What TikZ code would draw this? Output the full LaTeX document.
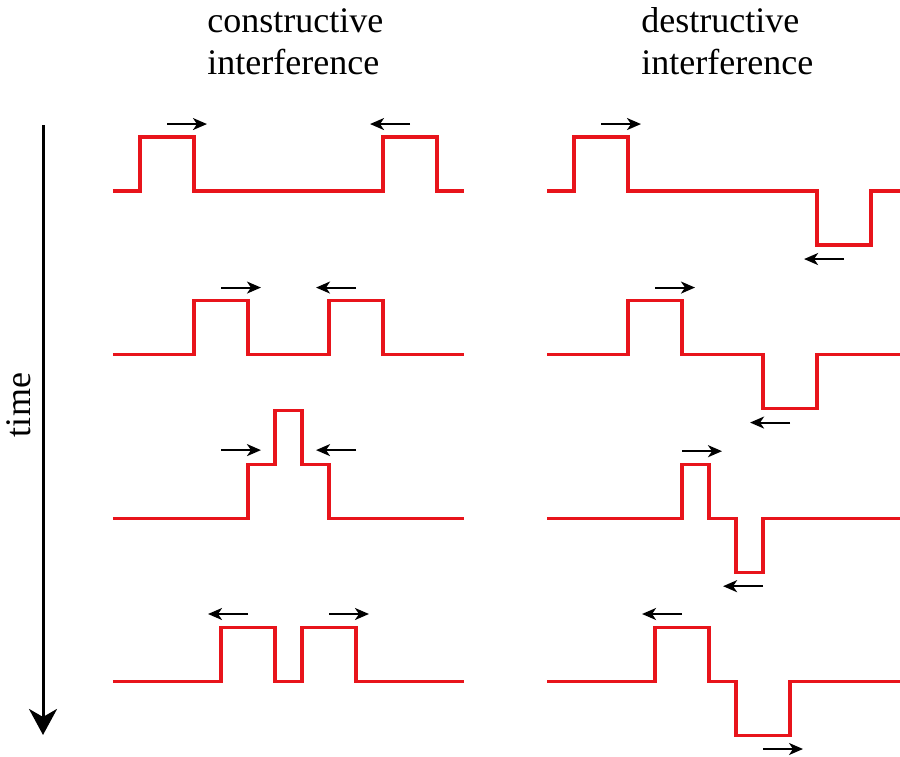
\documentclass[tikz,border=0pt]{standalone}
\usepackage{xcolor}
\definecolor{wavered}{HTML}{E8141B}
\usepackage{fontspec}
\setmainfont{Liberation Serif}
\usepackage{tikz}
\usetikzlibrary{arrows.meta}
\usetikzlibrary{positioning}

\tikzset{
  pulse/.style={wavered,line width=1.6pt,line join=miter},
  motion/.style={black,line width=1pt,-{Stealth[length=7pt,width=6pt,inset=2pt]}}
}

\begin{document}
\begin{tikzpicture}[x=13.5pt,y=13.5pt]
          \useasboundingbox (0,0) rectangle (33.333,-28);
          % titles
          \node[anchor=base west,align=left,inner sep=0pt,font=\fontsize{18}{21}\selectfont](tcon) at (7.667,-2.741) {constructive\\interference};
          \node[anchor=base west,align=left,inner sep=0pt,font=\fontsize{18}{21}\selectfont](tdes) at (23.74,-2.741) {destructive\\interference};
          % time axis
          \coordinate (t0) at (1.593,-4.63);
          \coordinate (t1) at (1.593,-27.22);
          \draw[line width=1.5pt,-{Stealth[length=13pt,width=14pt,inset=4pt]}] (t0) -- (t1);
          \node[rotate=90,anchor=base,font=\fontsize{18}{21}\selectfont](time) at (1.148,-15.0) {time};
          % constructive
          \begin{scope}[shift={(4.185,-7.074)}]
            \draw[pulse] (0,0) -- (1,0) -- (1,2) -- (3,2) -- (3,0) -- (10,0) -- (10,2) -- (12,2) -- (12,0) -- (13,0);
            \draw[motion] (2,2.48) -- ++(1.48,0);
            \draw[motion] (11,2.48) -- ++(-1.48,0);
          \end{scope}
          \begin{scope}[shift={(4.185,-13.13)}]
            \draw[pulse] (0,0) -- (3,0) -- (3,2) -- (5,2) -- (5,0) -- (8,0) -- (8,2) -- (10,2) -- (10,0) -- (13,0);
            \draw[motion] (4,2.48) -- ++(1.48,0);
            \draw[motion] (9,2.48) -- ++(-1.48,0);
          \end{scope}
          \begin{scope}[shift={(4.185,-19.19)}]
            \draw[pulse] (0,0) -- (5,0) -- (5,2) -- (6,2) -- (6,4) -- (7,4) -- (7,2) -- (8,2) -- (8,0) -- (13,0);
            \draw[motion] (4,2.52) -- ++(1.48,0);
            \draw[motion] (9,2.52) -- ++(-1.48,0);
          \end{scope}
          \begin{scope}[shift={(4.185,-25.24)}]
            \draw[pulse] (0,0) -- (4,0) -- (4,2) -- (6,2) -- (6,0) -- (7,0) -- (7,2) -- (9,2) -- (9,0) -- (13,0);
            \draw[motion] (5,2.5) -- ++(-1.48,0);
            \draw[motion] (8,2.5) -- ++(1.48,0);
          \end{scope}
          % destructive
          \begin{scope}[shift={(20.26,-7.074)}]
            \draw[pulse] (0,0) -- (1,0) -- (1,2) -- (3,2) -- (3,0) -- (10,0) -- (10,-2) -- (12,-2) -- (12,0) -- (13.1,0);
            \draw[motion] (2,2.48) -- ++(1.48,0);
            \draw[motion] (11,-2.52) -- ++(-1.48,0);
          \end{scope}
          \begin{scope}[shift={(20.26,-13.13)}]
            \draw[pulse] (0,0) -- (3,0) -- (3,2) -- (5,2) -- (5,0) -- (8,0) -- (8,-2) -- (10,-2) -- (10,0) -- (13.1,0);
            \draw[motion] (4,2.48) -- ++(1.48,0);
            \draw[motion] (9,-2.52) -- ++(-1.48,0);
          \end{scope}
          \begin{scope}[shift={(20.26,-19.19)}]
            \draw[pulse] (0,0) -- (5,0) -- (5,2) -- (6,2) -- (6,0) -- (7,0) -- (7,-2) -- (8,-2) -- (8,0) -- (13.1,0);
            \draw[motion] (5,2.48) -- ++(1.48,0);
            \draw[motion] (8,-2.52) -- ++(-1.48,0);
          \end{scope}
          \begin{scope}[shift={(20.26,-25.24)}]
            \draw[pulse] (0,0) -- (4,0) -- (4,2) -- (6,2) -- (6,0) -- (7,0) -- (7,-2) -- (9,-2) -- (9,0) -- (13.1,0);
            \draw[motion] (5,2.5) -- ++(-1.48,0);
            \draw[motion] (8,-2.5) -- ++(1.48,0);
          \end{scope}
      \end{tikzpicture}
\end{document}
